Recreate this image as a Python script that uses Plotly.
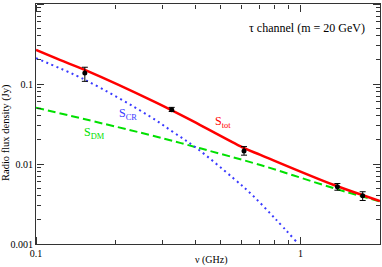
import numpy as np
import plotly.graph_objects as go

# ---- data ----
nu_tot = [0.1, 0.123, 0.153, 0.285, 0.418, 0.616, 0.706, 1.34, 2.0]
s_tot = [0.266, 0.2, 0.15, 0.0584, 0.0307, 0.0157, 0.013, 0.00546, 0.00345]

nu_cr = [0.1, 0.153, 0.268, 0.33, 0.406, 0.559, 0.657, 0.8, 0.963]
s_cr = [0.21, 0.113, 0.0398, 0.0251, 0.0157, 0.0066, 0.0041, 0.0021, 0.00108]

nu_dm = [0.1, 0.27, 0.418, 0.706, 1.34, 2.0]
s_dm = [0.0506, 0.023, 0.0157, 0.0097, 0.00497, 0.0034]

nu_obs = [0.153, 0.326, 0.612, 1.38, 1.72]
s_obs = [0.137, 0.0478, 0.0145, 0.0052, 0.0040]
s_hi = [0.162, 0.051, 0.0165, 0.0057, 0.0045]
s_lo = [0.108, 0.0453, 0.0129, 0.0047, 0.0035]

x_tickvals = [0.1, 1]
x_ticktext = ["0.1", "1"]
y_tickvals = [0.001, 0.01, 0.1, 1]
y_ticktext = ["0.001", "0.01", "0.1", "1"]

SERIF = "Liberation Serif, Times New Roman, serif"
XR = [-1, np.log10(2)]
YR = [-3, 0]

fig = go.Figure()
fig.add_trace(go.Scatter(x=nu_dm, y=s_dm, mode="lines", line=dict(color="#00e000", width=2, dash="8px,4px", shape="spline"), showlegend=False))
fig.add_trace(go.Scatter(x=nu_cr, y=s_cr, mode="lines", line=dict(color="#3a3aff", width=2, dash="2px,3.5px", shape="spline"), showlegend=False))
fig.add_trace(go.Scatter(x=nu_tot, y=s_tot, mode="lines", line=dict(color="#ff0000", width=2.5, shape="spline"), showlegend=False))
fig.add_trace(go.Scatter(
    x=nu_obs, y=s_obs, mode="markers",
    marker=dict(color="black", size=5),
    error_y=dict(type="data", symmetric=False,
                 array=[h - s for h, s in zip(s_hi, s_obs)],
                 arrayminus=[s - l for s, l in zip(s_obs, s_lo)],
                 color="black", thickness=1, width=3),
    showlegend=False))
# invisible helpers so the tick-only overlay axes get drawn
for xa, ya in (("x2", "y2"), ("x3", "y3")):
    fig.add_trace(go.Scatter(x=nu_obs, y=s_obs, mode="markers", marker=dict(opacity=0),
                             xaxis=xa, yaxis=ya, hoverinfo="skip", showlegend=False))

main_common = dict(
    type="log", showline=True, linecolor="#333", linewidth=1, mirror=True,
    ticks="", showgrid=False, zeroline=False, automargin=False,
    tickfont=dict(family=SERIF, size=10, color="black"),
)

# tick-only axes placed on each side of the frame, with outside ticks pointing into the plot
tick_common = dict(
    type="log", showline=False, showgrid=False, zeroline=False, automargin=False,
    showticklabels=False, ticks="outside", ticklen=7, tickwidth=1, tickcolor="#333",
    tick0=0, dtick=1, anchor="free",
    minor=dict(ticks="outside", ticklen=4, tickwidth=1, tickcolor="#333", dtick="D1", showgrid=False),
)

fig.update_layout(
    xaxis=dict(range=XR, tickvals=x_tickvals, ticktext=x_ticktext, **main_common),
    yaxis=dict(range=YR, tickvals=y_tickvals, ticktext=y_ticktext, **main_common),
    xaxis2=dict(range=XR, overlaying="x", side="top", position=0, **tick_common),
    xaxis3=dict(range=XR, overlaying="x", side="bottom", position=1, **tick_common),
    yaxis2=dict(range=YR, overlaying="y", side="right", position=0, **tick_common),
    yaxis3=dict(range=YR, overlaying="y", side="left", position=1, **tick_common),
)

anns = [
    dict(text="τ channel (m = 20 GeV)", xref="paper", yref="paper", x=0.962, y=0.902,
         xanchor="right", yanchor="middle", showarrow=False, font=dict(family=SERIF, size=12, color="black")),
    dict(text="S<sub>CR</sub>", xref="x", yref="y", x=-0.693, y=-1.375, xanchor="left", yanchor="middle",
         showarrow=False, font=dict(family=SERIF, size=12, color="#3a3aff")),
    dict(text="S<sub>DM</sub>", xref="x", yref="y", x=-0.826, y=-1.6125, xanchor="left", yanchor="middle",
         showarrow=False, font=dict(family=SERIF, size=12, color="#00e000")),
    dict(text="S<sub>tot</sub>", xref="x", yref="y", x=-0.3295, y=-1.475, xanchor="left", yanchor="middle",
         showarrow=False, font=dict(family=SERIF, size=12, color="#ff0000")),
    dict(text="Radio flux density (Jy)", xref="paper", yref="paper", x=-30 / 344, y=1 - (133 - 4) / 240,
         xanchor="center", yanchor="middle", textangle=-90, showarrow=False,
         font=dict(family=SERIF, size=10.5, color="black")),
    dict(text="ν (GHz)", xref="paper", yref="paper", x=(211 - 36) / 344, y=1 - (260 - 4) / 240,
         xanchor="center", yanchor="middle", showarrow=False, font=dict(family=SERIF, size=10, color="black")),
]
fig.update_layout(
    width=382, height=267, margin=dict(l=36, r=2, t=4, b=23, autoexpand=False),
    paper_bgcolor="white", plot_bgcolor="white", annotations=anns,
)
fig.write_html("out.html", config={"displayModeBar": False},
               post_script="document.body.style.margin='0';")
